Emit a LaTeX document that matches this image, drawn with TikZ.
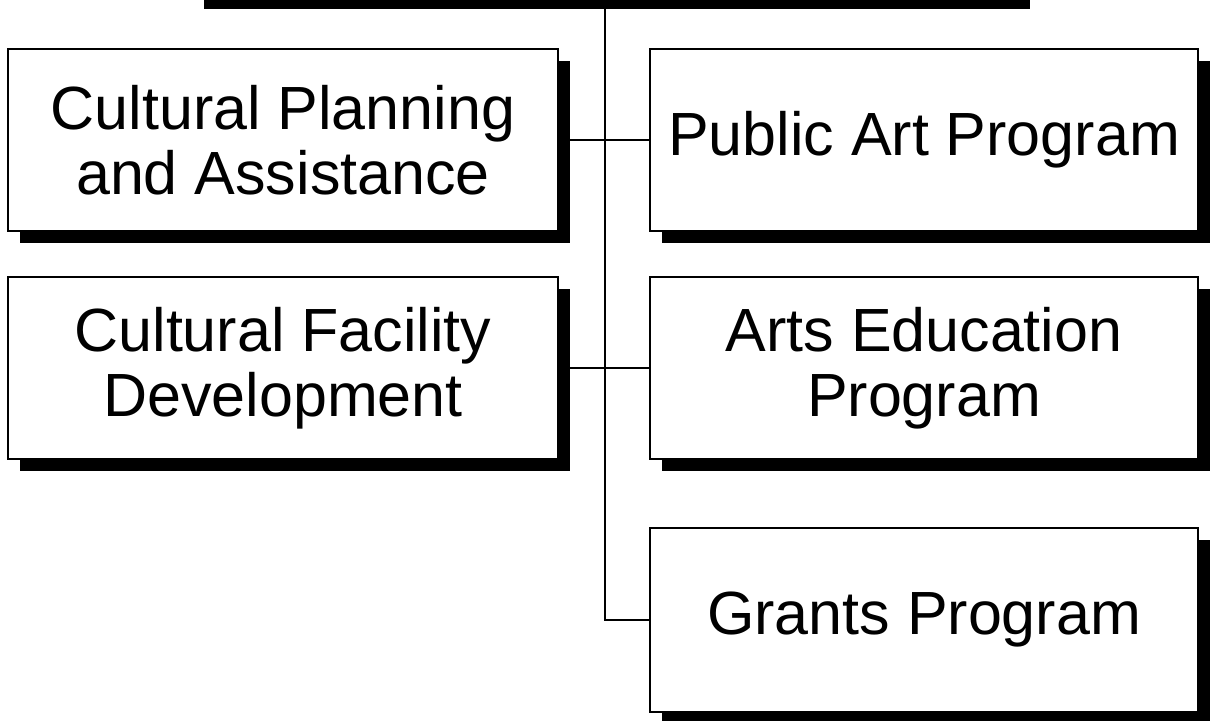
\documentclass[tikz,border=0pt]{standalone}
\usepackage{fontspec}
\setmainfont{Liberation Sans}
\usepackage{tikz}
\usetikzlibrary{shadows}

\begin{document}
\begin{tikzpicture}[
    x=0.5pt,y=-0.5pt,
    unit/.style={rectangle,draw,line width=1pt,fill=white,align=center,
      font=\fontsize{30.5}{32.5}\selectfont,
      drop shadow={shadow xshift=6pt,shadow yshift=-6pt,fill=black,opacity=1}},
    lcol/.style={unit,minimum width=275pt,minimum height=91pt},
    rcol/.style={unit,minimum width=274pt,minimum height=91pt},
    link/.style={line width=0.8pt}]
    \useasboundingbox (0,0) rectangle (1214,721);
    \clip (0,0) rectangle (1214,721);
    % top unit, cut off by the page edge
    \node[unit,minimum width=413pt,minimum height=60pt] (top) at (605,-63) {};
    % left column
    \node[lcol] (plan) at (283,140) {Cultural Planning\\and Assistance};
    \node[lcol] (facil) at (283,368) {Cultural Facility\\Development};
    % right column
    \node[rcol] (pubart) at (924,140) {Public Art Program};
    \node[rcol] (artsed) at (924,368) {Arts Education\\Program};
    \node[rcol,minimum height=92pt] (grants) at (924,620) {Grants Program};
    % connectors
    \draw[link] (top.south) |- (grants.west);
    \draw[link] (plan.east) -- (pubart.west);
    \draw[link] (facil.east) -- (artsed.west);
\end{tikzpicture}
\end{document}
